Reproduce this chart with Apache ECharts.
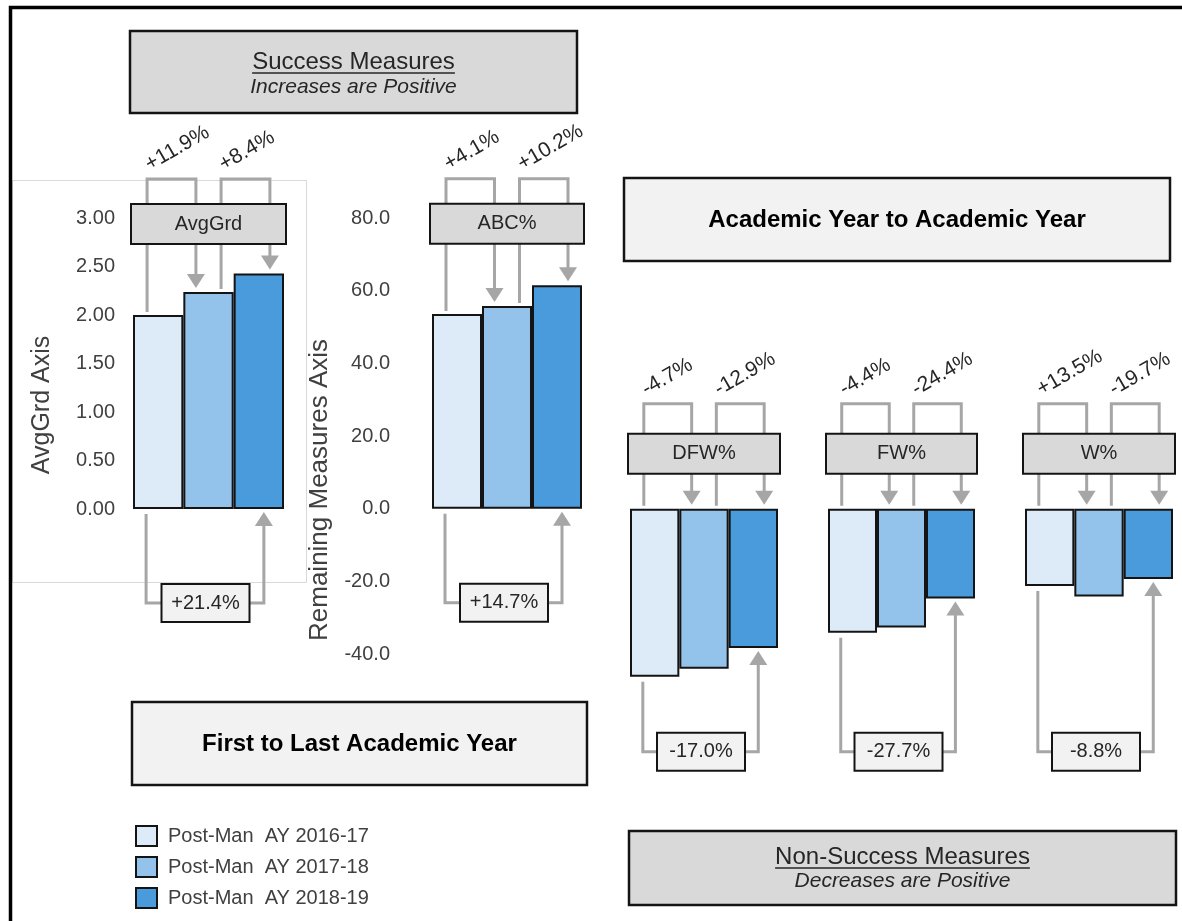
<!DOCTYPE html>
<html>
<head>
<meta charset="utf-8">
<script src="https://cdn.jsdelivr.net/npm/echarts@6/dist/echarts.min.js"></script>
<style>
  html, body { margin: 0; padding: 0; background: #ffffff; }
  #chart { width: 1182px; height: 921px; }
</style>
</head>
<body>
<div id="chart"></div>
<script>
// ---- data -------------------------------------------------------------
const measures = ['AvgGrd', 'ABC%', 'DFW%', 'FW%', 'W%'];
const yearNames = ['Post-Man  AY 2016-17', 'Post-Man  AY 2017-18', 'Post-Man  AY 2018-19'];
// non-success rates are plotted below zero
const ay2016 = [2.00, 53.6, -46.2, -34.1, -21.2];
const ay2017 = [2.238, 55.8, -44.0, -32.6, -24.1];
const ay2018 = [2.427, 61.5, -38.3, -24.65, -19.3];
const changeFirstStep = ['+11.9%', '+4.1%', '-4.7%', '-4.4%', '+13.5%'];
const changeSecondStep = ['+8.4%', '+10.2%', '-12.9%', '-24.4%', '-19.7%'];
const changeOverall = ['+21.4%', '+14.7%', '-17.0%', '-27.7%', '-8.8%'];
const avgGrdScale = { min: 0, max: 3, interval: 0.5, decimals: 2 };
const remainingScale = { min: -40, max: 80, interval: 20, decimals: 1 };
// the non-success panels share the remaining-measures scale but run deeper
const nonSuccessScale = { min: -60, max: 80, interval: 20, decimals: 1 };

// ---- styling ------------------------------------------------------------
const FONT = '"Liberation Sans", Arial, sans-serif';
const barColors = ['#dcebf7', '#93c2ea', '#4a9bdc'];
const edge = '#141414';
const connectorGray = '#a6a6a6';
const textDark = '#262626';
const tickGray = '#404040';

const panels = [
  { left: 133, width: 151, top: 218, height: 291, scale: avgGrdScale, labelMargin: 18, showAxis: true },
  { left: 432, width: 150, top: 218, height: 436, scale: remainingScale, labelMargin: 42, showAxis: true },
  { left: 630, width: 148, top: 218, height: 509, scale: nonSuccessScale, showAxis: false },
  { left: 828, width: 147, top: 218, height: 509, scale: nonSuccessScale, showAxis: false },
  { left: 1025, width: 148, top: 218, height: 509, scale: nonSuccessScale, showAxis: false }
];

const yearSeries = [ay2016, ay2017, ay2018];

// brackets, arrows, measure tags and change labels for one panel
function connectors(p) {
  return function (params, api) {
    const origin = api.coord([0, 0]);
    const band = api.size([1, 0])[0];
    const x0 = origin[0] - band / 2;
    const bw = band / 3;
    const zeroY = origin[1];
    const vals = [ay2016[p], ay2017[p], ay2018[p]];
    const ends = vals.map(v => api.coord([0, v])[1]);
    const falling = vals[0] < 0;
    const upper = falling ? [zeroY, zeroY, zeroY] : ends;
    const lower = falling ? ends : [zeroY, zeroY, zeroY];
    const bx = (i, f) => x0 + bw * (i + f);
    const topY = falling ? zeroY - 105 : zeroY - 330;
    const tagY = falling ? zeroY - 75 : zeroY - 305;
    const lowY = falling ? zeroY + 243 : zeroY + 94;

    const line = pts => ({ type: 'polyline', shape: { points: pts },
      style: { stroke: connectorGray, lineWidth: 3, fill: null } });
    const head = (x, y, dir) => ({ type: 'polygon',
      shape: { points: [[x, y], [x - 9, y - dir * 14], [x + 9, y - dir * 14]] },
      style: { fill: connectorGray } });
    const label = (x, y, t) => ({ type: 'text', x: x, y: y,
      style: { text: t, font: '20px ' + FONT, fill: textDark, textAlign: 'center', textVerticalAlign: 'middle' } });

    const children = [];
    const a = bx(0, 0.28), b = bx(1, 0.25), c = bx(1, 0.75), d = bx(2, 0.72);
    children.push(line([[a, upper[0] - 3], [a, topY], [b, topY], [b, upper[1] - 16]]));
    children.push(head(b, upper[1] - 4, 1));
    children.push(line([[c, upper[1] - 3], [c, topY], [d, topY], [d, upper[2] - 16]]));
    children.push(head(d, upper[2] - 4, 1));

    children.push({ type: 'rect', shape: { x: x0 - 2, y: tagY, width: band + 4, height: 40 },
      style: { fill: '#d9d9d9', stroke: edge, lineWidth: 2 } });
    children.push(label(x0 + band / 2, tagY + 20, measures[p]));

    [[a, changeFirstStep[p]], [c, changeSecondStep[p]]].forEach(function (it) {
      children.push({ type: 'text', x: it[0] + 5, y: topY - 4, rotation: 30 * Math.PI / 180,
        style: { text: it[1], font: '21px ' + FONT, fill: textDark, textAlign: 'left', textVerticalAlign: 'bottom' } });
    });

    const e = bx(0, 0.26), g = bx(2, 0.6);
    const cx = x0 + band / 2 - 3;
    children.push(line([[e, lower[0] + 5], [e, lowY], [cx - 44, lowY]]));
    children.push(line([[cx + 44, lowY], [g, lowY], [g, lower[2] + 16]]));
    children.push(head(g, lower[2] + 3, -1));
    children.push({ type: 'rect', shape: { x: cx - 44, y: lowY - 19, width: 88, height: 38 },
      style: { fill: '#f2f2f2', stroke: edge, lineWidth: 2 } });
    children.push(label(cx, lowY, changeOverall[p]));

    return { type: 'group', children: children };
  };
}

const grid = panels.map(pl => ({ left: pl.left, width: pl.width, top: pl.top, height: pl.height }));
const xAxis = panels.map((pl, p) => ({ type: 'category', gridIndex: p, data: [measures[p]], show: false }));
const yAxis = panels.map((pl, p) => ({
  type: 'value', gridIndex: p, min: pl.scale.min, max: pl.scale.max, interval: pl.scale.interval,
  show: pl.showAxis,
  axisLine: { show: false }, axisTick: { show: false }, splitLine: { show: false },
  axisLabel: { show: pl.showAxis, margin: pl.labelMargin || 8, fontSize: 20, color: tickGray, fontFamily: FONT,
    formatter: v => v.toFixed(pl.scale.decimals) }
}));

const series = [];
measures.forEach(function (m, p) {
  yearSeries.forEach(function (arr, k) {
    series.push({
      type: 'bar', name: yearNames[k], xAxisIndex: p, yAxisIndex: p, data: [arr[p]],
      barGap: '0%', barCategoryGap: '0%', silent: true, z: 3,
      itemStyle: { color: barColors[k], borderColor: edge, borderWidth: 2 }
    });
  });
  series.push({ type: 'custom', name: m + ' change', xAxisIndex: p, yAxisIndex: p, data: [[0, 0]],
    renderItem: connectors(p), silent: true, z: 4 });
});

// text boxes and frames
const measureCtx = document.createElement('canvas').getContext('2d');
function textWidth(t, font) { measureCtx.font = font; return measureCtx.measureText(t).width; }

function headerBox(x, y, w, h, fill, title, subtitle, titleY, subY) {
  const titleFont = '24px ' + FONT;
  const tw = textWidth(title, titleFont);
  const cx = x + w / 2;
  return {
    type: 'group', children: [
      { type: 'rect', shape: { x: x, y: y, width: w, height: h }, style: { fill: fill, stroke: edge, lineWidth: 2.5 } },
      { type: 'text', x: cx, y: titleY, style: { text: title, font: titleFont, fill: textDark, textAlign: 'center', textVerticalAlign: 'middle' } },
      { type: 'line', shape: { x1: cx - tw / 2, y1: titleY + 11, x2: cx + tw / 2, y2: titleY + 11 }, style: { stroke: textDark, lineWidth: 1.5 } },
      { type: 'text', x: cx, y: subY, style: { text: subtitle, font: 'italic 21px ' + FONT, fill: textDark, textAlign: 'center', textVerticalAlign: 'middle' } }
    ]
  };
}
function sectionBox(x, y, w, h, title) {
  return {
    type: 'group', children: [
      { type: 'rect', shape: { x: x, y: y, width: w, height: h }, style: { fill: '#f2f2f2', stroke: edge, lineWidth: 2.5 } },
      { type: 'text', x: x + w / 2, y: y + h / 2 + 1, style: { text: title, font: 'bold 24px ' + FONT, fill: '#000000', textAlign: 'center', textVerticalAlign: 'middle' } }
    ]
  };
}

const graphic = [
  { type: 'rect', shape: { x: 12.5, y: 180.5, width: 294, height: 402 }, style: { fill: null, stroke: '#d9d9d9', lineWidth: 1 }, z: 0 },
  { type: 'rect', shape: { x: 10.5, y: 7.5, width: 1200, height: 950 }, style: { fill: null, stroke: '#000000', lineWidth: 3.5 }, z: 1 },
  headerBox(130, 31, 447, 82, '#d9d9d9', 'Success Measures', 'Increases are Positive', 62, 87),
  headerBox(629, 831, 547, 74, '#d9d9d9', 'Non-Success Measures', 'Decreases are Positive', 857, 881),
  sectionBox(624, 178, 546, 83, 'Academic Year to Academic Year'),
  sectionBox(132, 702, 455, 83, 'First to Last Academic Year'),
  { type: 'text', x: 42, y: 405, rotation: Math.PI / 2,
    style: { text: 'AvgGrd Axis', font: '25px ' + FONT, fill: tickGray, textAlign: 'center', textVerticalAlign: 'middle' } },
  { type: 'text', x: 320, y: 490, rotation: Math.PI / 2,
    style: { text: 'Remaining Measures Axis', font: '26px ' + FONT, fill: tickGray, textAlign: 'center', textVerticalAlign: 'middle' } }
];

const chart = echarts.init(document.getElementById('chart'), null, { renderer: 'canvas' });
chart.setOption({
  animation: false,
  backgroundColor: '#ffffff',
  grid: grid,
  xAxis: xAxis,
  yAxis: yAxis,
  legend: {
    data: yearNames, orient: 'vertical', left: 135, top: 825, padding: 0, icon: 'rect',
    itemWidth: 21, itemHeight: 20, itemGap: 9, selectedMode: false,
    itemStyle: { borderColor: edge, borderWidth: 2 },
    textStyle: { fontSize: 20, lineHeight: 20, color: tickGray, fontFamily: FONT, padding: [0, 0, 0, 6] }
  },
  graphic: graphic,
  series: series
});
</script>
</body>
</html>
